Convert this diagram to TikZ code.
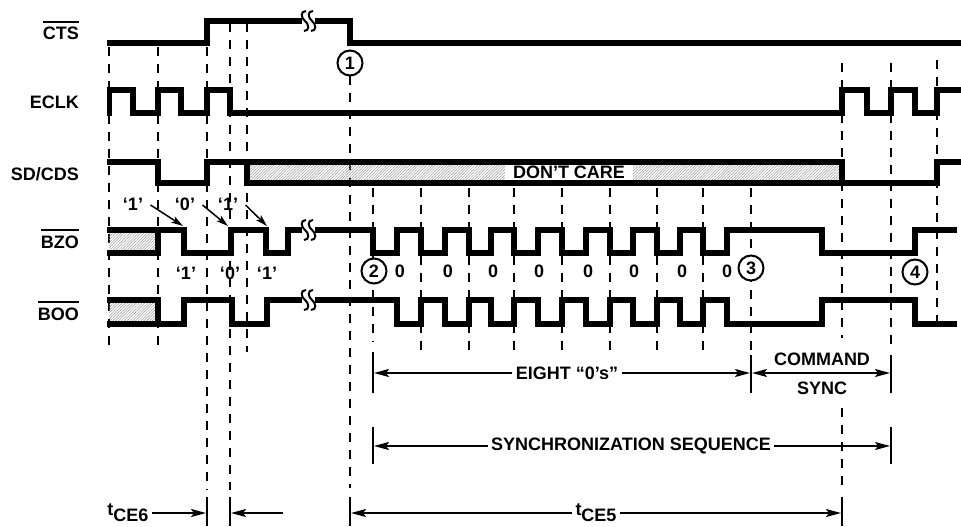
\documentclass[tikz,border=0pt]{standalone}
\usepackage{fontspec}
\setmainfont{Liberation Sans}
\usepackage{tikz}
\usetikzlibrary{positioning, arrows.meta, patterns.meta}
\tikzstyle{every node}=[font=\fontsize{18}{21}\selectfont\bfseries]
\tikzstyle{sig} = [line width=5.2pt]
\tikzstyle{guide} = [line width=2pt, dash pattern=on 9pt off 8pt]
\tikzstyle{tick} = [line width=2pt]
\tikzstyle{arrow} = [line width=1.8pt, -{Stealth[length=15pt,width=8pt,inset=3pt]}]
\tikzstyle{darrow} = [line width=1.8pt, {Stealth[length=15pt,width=8pt,inset=3pt]}-{Stealth[length=15pt,width=8pt,inset=3pt]}]
\tikzstyle{bitarrow} = [line width=1.5pt, -{Stealth[length=12pt,width=7pt,inset=3pt]}]
\tikzstyle{hatch} = [pattern={Lines[angle=45,distance=2pt,line width=0.5pt]}, pattern color=gray!80]
\tikzstyle{num} = [circle, draw, line width=2pt, fill=white, minimum size=25pt, inner sep=0pt]
\tikzstyle{lbl} = [anchor=base east, inner sep=0pt]
\newcommand{\olbl}[1]{\setbox0\hbox{#1}\rlap{\rule[17.2pt]{\wd0}{1.6pt}}\box0}
\newcommand{\sigbreak}[2]{\draw[line width=2pt] (#1+1,#2-10) .. controls (#1-5,#2-10) and (#1-4,#2-3) .. (#1,#2) .. controls (#1+4,#2+3) and (#1+5,#2+10) .. (#1-1,#2+10);}

\begin{document}
\begin{tikzpicture}[x=1pt, y=-1pt]
		\useasboundingbox (0,0) rectangle (961,527);
		%信号名称
		\node[lbl] (cts) at (79,40) {\olbl{CTS}};
		\node[lbl] (eclk) at (79,108) {ECLK};
		\node[lbl] (sdcds) at (79,180) {SD/CDS};
		\node[lbl] (bzo) at (79,248) {\olbl{BZO}};
		\node[lbl] (boo) at (79,320) {\olbl{BOO}};
		
		%虚线
		\draw[guide] (109,47) -- (109,347);
		\draw[guide] (158,47) -- (158,347);
		\draw[guide] (207,47) -- (207,490);
		\draw[guide] (230,23) -- (230,490);
		\draw[guide] (247,23) -- (247,352);
		\draw[guide] (350,76) -- (350,488);
		\draw[guide] (373,188) -- (373,342);
		\draw[guide] (421,188) -- (421,355);
		\draw[guide] (469,188) -- (469,355);
		\draw[guide] (514,188) -- (514,355);
		\draw[guide] (562,188) -- (562,355);
		\draw[guide] (610,188) -- (610,355);
		\draw[guide] (657,188) -- (657,355);
		\draw[guide] (703,188) -- (703,355);
		\draw[guide] (751,188) -- (751,355);
		\draw[guide] (842,63) -- (842,338);
		\draw[guide] (842,408) -- (842,488);
		\draw[guide] (891,63) -- (891,345);
		\draw[guide] (937,60) -- (937,330);
		
		%阴影
		\path[hatch] (109,230) rectangle (158,253);
		\path[hatch] (109,300) rectangle (158,324);
		\path[hatch] (247,162) rectangle (842,183);
		\node[fill=white, inner xsep=8pt, inner ysep=2pt] (dc) at (569,172.5) {DON’T CARE};
		
		%波形
		\draw[sig] (107,43) -- (207,43) -- (207,21) -- (302,21);
		\draw[sig] (315,21) -- (350,21) -- (350,43) -- (961,43);
		\sigbreak{305}{21}
		\sigbreak{312}{21}
		
		\draw[sig] (109.5,115.5) -- (109.5,90) -- (133,90) -- (133,113) -- (158,113) -- (158,90) -- (181,90) -- (181,113) -- (207,113) -- (207,90) -- (230,90) -- (230,113) -- (842,113) -- (842,90) -- (867,90) -- (867,113) -- (891,113) -- (891,90) -- (915,90) -- (915,113) -- (937,113) -- (937,90) -- (961,90);
		
		\draw[sig] (107,162) -- (158,162) -- (158,183) -- (207,183) -- (207,162) -- (842,162) -- (842,183) -- (937,183) -- (937,162) -- (961,162);
		\draw[sig] (247,162) -- (247,183) -- (842,183);
		
		\draw[sig] (107,253) -- (158,253) -- (158,230);
		\draw[sig] (107,230) -- (184,230) -- (184,253) -- (231,253) -- (231,230) -- (266,230) -- (266,253) -- (288,253) -- (288,230) -- (302,230);
		\draw[sig] (315,230) -- (373,230) -- (373,253) -- (397,253) -- (397,230) -- (421,230) -- (421,253) -- (445,253) -- (445,230) -- (469,230) -- (469,253) -- (491,253) -- (491,230) -- (514,230) -- (514,253) -- (538,253) -- (538,230) -- (562,230) -- (562,253) -- (586,253) -- (586,230) -- (610,230) -- (610,253) -- (633,253) -- (633,230) -- (657,230) -- (657,253) -- (680,253) -- (680,230) -- (703,230) -- (703,253) -- (727,253) -- (727,230) -- (822,230) -- (822,253) -- (915,253) -- (915,230) -- (957,230);
		\sigbreak{305}{230}
		\sigbreak{312}{230}
		
		\draw[sig] (107,300) -- (158,300) -- (158,324);
		\draw[sig] (107,324) -- (184,324) -- (184,300) -- (232,300) -- (232,324) -- (267,324) -- (267,300) -- (302,300);
		\draw[sig] (315,300) -- (397,300) -- (397,324) -- (421,324) -- (421,300) -- (445,300) -- (445,324) -- (469,324) -- (469,300) -- (491,300) -- (491,324) -- (514,324) -- (514,300) -- (538,300) -- (538,324) -- (562,324) -- (562,300) -- (586,300) -- (586,324) -- (610,324) -- (610,300) -- (633,300) -- (633,324) -- (657,324) -- (657,300) -- (680,300) -- (680,324) -- (703,324) -- (703,300) -- (727,300) -- (727,324) -- (822,324) -- (822,300) -- (915,300) -- (915,324) -- (957,324);
		\sigbreak{305}{300}
		\sigbreak{312}{300}
		
		%编号
		\node[num] (c1) at (350,63) {1};
		\node[num] (c2) at (374,271) {2};
		\node[num] (c3) at (751,268) {3};
		\node[num] (c4) at (915,272) {4};
		
		%位标注
		\node (b1) at (133,204) {‘1’};
		\node (b2) at (185,204) {‘0’};
		\node (b3) at (228,204) {‘1’};
		\coordinate (p1) at (183,226);
		\coordinate (p2) at (228,226);
		\coordinate (p3) at (267,226);
		\draw[bitarrow] ([shift={(4,1)}]b1.east) -- (p1);
		\draw[bitarrow] ([shift={(4,1)}]b2.east) -- (p2);
		\draw[bitarrow] ([shift={(4,1)}]b3.east) -- (p3);
		\node (d1) at (186,273) {‘1’};
		\node (d2) at (230,273) {‘0’};
		\node (d3) at (267,273) {‘1’};
		
		\node (z1) at (400,271) {0};
		\node (z2) at (448,271) {0};
		\node (z3) at (493,271) {0};
		\node (z4) at (539,271) {0};
		\node (z5) at (588,271) {0};
		\node (z6) at (634,271) {0};
		\node (z7) at (682,271) {0};
		\node (z8) at (727,271) {0};
		
		%时间标注
		\draw[tick] (373,352) -- (373,393);
		\draw[tick] (373,427) -- (373,464);
		\draw[tick] (751,355) -- (751,393);
		\draw[tick] (891,355) -- (891,393);
		\draw[tick] (891,427) -- (891,464);
		\draw[tick] (207,497) -- (207,526);
		\draw[tick] (230,497) -- (230,526);
		\draw[tick] (350,497) -- (350,526);
		\draw[tick] (842,497) -- (842,526);
		
		\node (eight) at (567,373) {EIGHT “0’s”};
		\coordinate (e8l) at (374,373);
		\coordinate (e8r) at (750,373);
		\draw[arrow] (eight) -- (e8l);
		\draw[arrow] (eight) -- (e8r);
		
		\node (cmd) at (822,359) {COMMAND};
		\node (sync) [below of=cmd, node distance=29.5pt] {SYNC};
		\coordinate (cl) at (752,373);
		\coordinate (cr) at (890,373);
		\draw[darrow] (cl) -- (cr);
		
		\node (seq) at (631,446) {SYNCHRONIZATION SEQUENCE};
		\coordinate (sl) at (374,446);
		\coordinate (sr) at (890,446);
		\draw[arrow] (seq) -- (sl);
		\draw[arrow] (seq) -- (sr);
		
		\node (tce6) at (128,513) {t\raisebox{-6pt}{CE6}};
		\coordinate (t6a) at (206,513);
		\coordinate (t6b) at (283,513);
		\coordinate (t6c) at (231,513);
		\draw[arrow] (tce6) -- (t6a);
		\draw[arrow] (t6b) -- (t6c);
		
		\node (tce5) at (596,513) {t\raisebox{-6pt}{CE5}};
		\coordinate (t5l) at (351,513);
		\coordinate (t5r) at (841,513);
		\draw[arrow] (tce5) -- (t5l);
		\draw[arrow] (tce5) -- (t5r);
		
	\end{tikzpicture}
\end{document}
